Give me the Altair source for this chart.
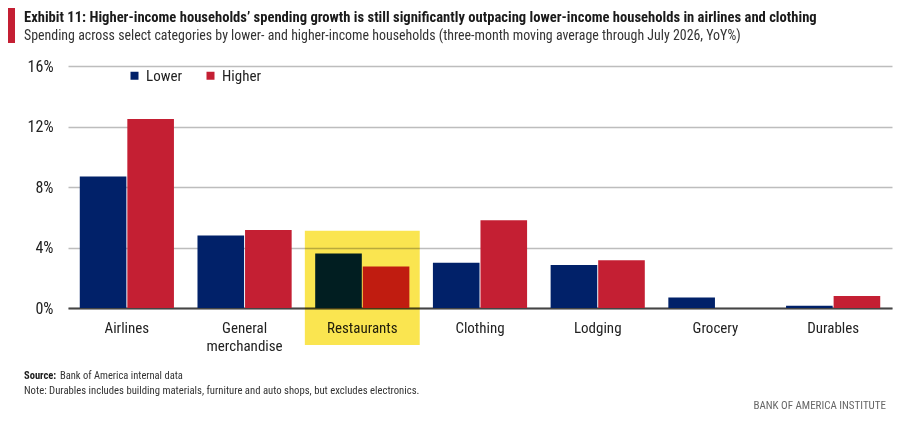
import altair as alt
import pandas as pd

# ---- data ----
categories = ["Airlines", "General merchandise", "Restaurants", "Clothing",
              "Lodging", "Grocery", "Durables"]
lower = [8.7, 4.8, 3.6, 3.0, 2.85, 0.7, 0.15]
higher = [12.5, 5.15, 2.75, 5.8, 3.15, 0.0, 0.8]
groups = ["Lower", "Higher"]
y_ticks = [0, 4, 8, 12, 16]
highlight_cat = ["Restaurants"]
highlight_top = [5.1]
highlight_bottom = [-2.45]

title_text = ("Exhibit 11: Higher-income households\u2019 spending growth is still significantly "
              "outpacing lower-income households in airlines and clothing")
subtitle_text = ("Spending across select categories by lower- and higher-income households "
                 "(three-month moving average through July 2026, YoY%)")
source_bold = "Source:"
source_text = "Bank of America internal data"
note_text = ("Note: Durables includes building materials, furniture and auto shops, "
             "but excludes electronics.")
brand_text = "BANK OF AMERICA INSTITUTE"

NAVY = "#012169"
RED = "#C41F33"
YELLOW = "#FAE550"
FONT = "Liberation Sans Narrow, Roboto Condensed, DejaVu Sans Condensed, Roboto, sans-serif"

rows = []
for c, lo, hi in zip(categories, lower, higher):
    rows.append({"category": c, "group": "Lower", "value": lo})
    rows.append({"category": c, "group": "Higher", "value": hi})
df = pd.DataFrame(rows)

hl = pd.DataFrame({"category": highlight_cat, "top": highlight_top,
                   "bottom": highlight_bottom})
one = pd.DataFrame({"a": [0]})

x_enc = alt.X(
    "category:N", sort=categories,
    scale=alt.Scale(paddingInner=0.2, paddingOuter=0.1),
    axis=alt.Axis(
        title=None, labelAngle=0, ticks=False, domainColor="#444444", domainWidth=2,
        labelPadding=12, labelFontSize=15, labelColor="#222222", labelFont=FONT,
        labelLineHeight=18,
        labelExpr="datum.label == 'General merchandise' ? ['General', 'merchandise'] : datum.label",
    ),
)

y_enc = alt.Y(
    "value:Q",
    scale=alt.Scale(domain=[0, 16], nice=False),
    axis=alt.Axis(
        title=None, values=y_ticks, domain=False, ticks=False, grid=True,
        gridColor="#bdbdbd", gridWidth=1.5, labelPadding=15, labelFontSize=16,
        labelColor="#222222", labelFont=FONT, labelExpr="datum.value + '%'",
    ),
)

bars = alt.Chart(df).mark_bar().encode(
    x=x_enc,
    xOffset=alt.XOffset("group:N", sort=groups, scale=alt.Scale(paddingInner=0.02)),
    y=y_enc,
    color=alt.Color(
        "group:N", sort=groups,
        scale=alt.Scale(domain=groups, range=[NAVY, RED]),
        legend=alt.Legend(
            title=None, orient="none", legendX=59, legendY=2, direction="horizontal",
            symbolType="square", symbolSize=64, symbolStrokeWidth=0,
            labelFontSize=15, labelFont=FONT, labelColor="#222222",
            columnPadding=20, labelOffset=4, padding=0,
        ),
    ),
)

highlight = alt.Chart(hl).mark_bar(
    color=YELLOW, blend="multiply", width=alt.RelativeBandSize(1.22)
).encode(
    x=alt.X("category:N", sort=categories),
    y=alt.Y("top:Q"),
    y2=alt.Y2("bottom:Q"),
)

red_tab = alt.Chart(one).mark_rect(color=RED).encode(
    x=alt.value(-60), x2=alt.value(-53), y=alt.value(-61), y2=alt.value(-23)
)

def txt(text, x, y, size, weight="normal", color="#1a1a1a", align="left"):
    return alt.Chart(one).mark_text(
        text=text, align=align, baseline="middle", fontSize=size, fontWeight=weight,
        font=FONT, color=color,
    ).encode(x=alt.value(x), y=alt.value(y))

title = txt(title_text, -44, -48, 14.6, weight="bold")
subtitle = txt(subtitle_text, -44, -30, 13.9, color="#333333")
src_b = txt(source_bold, -44, 310, 10.5, weight="bold")
src = txt(source_text, -8, 310, 10.5, color="#333333")
note = txt(note_text, -44, 325, 10.7, color="#333333")
brand = txt(brand_text, 818, 340, 11, color="#666666", align="right")

chart = alt.layer(
    bars, highlight, red_tab, title, subtitle, src_b, src, note, brand
).properties(
    width=824, height=242,
    padding={"left": 60, "top": 58, "right": 17, "bottom": 110},
    autosize="none",
    background="white",
).configure_view(stroke=None)

chart.save("out.html", embed_options={"renderer": "svg", "actions": False})
